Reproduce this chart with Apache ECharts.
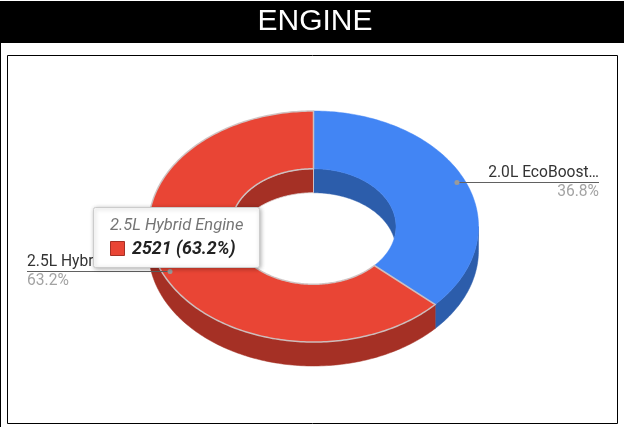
<!DOCTYPE html>
<html>
<head>
<meta charset="utf-8">
<style>html,body{margin:0;padding:0;background:#fff}#c{width:624px;height:427px}</style>
<script src="https://cdn.jsdelivr.net/npm/echarts@6/dist/echarts.min.js"></script>
</head>
<body>
<div id="c"></div>
<script>
const titleText = 'ENGINE';
const categories = ['2.0L EcoBoost Engine', '2.5L Hybrid Engine'];
const shortLabels = ['2.0L EcoBoost…', '2.5L Hybrid E…'];
const values = [1468, 2521];
const topColors = ['#4285f4', '#e94535'];
const sideColors = ['#2c5dab', '#a53025'];

const total = values.reduce((a, b) => a + b, 0);
const pct = v => (v / total * 100).toFixed(1) + '%';
const hoverIndex = 1;
const G = { cx: 313.5, cy: 226.5, rx: 165, ry: 115.5, hole: 0.5, depth: 24 };

function pt(deg, k) {
  const t = deg * Math.PI / 180;
  return [G.cx + G.rx * k * Math.sin(t), G.cy - G.ry * k * Math.cos(t)];
}
function arc(a, b, k) {
  const out = [], n = Math.max(2, Math.ceil(Math.abs(b - a)));
  for (let i = 0; i <= n; i++) out.push(pt(a + (b - a) * i / n, k));
  return out;
}
function overlap(a, b, lo, hi) {
  const s = Math.max(a, lo), e = Math.min(b, hi);
  return e > s ? [s, e] : null;
}

function renderItem(params, api) {
  const i = params.dataIndex;
  const before = values.slice(0, i).reduce((a, b) => a + b, 0);
  const a0 = before / total * 360, a1 = (before + api.value(1)) / total * 360;
  const mid = (a0 + a1) / 2;
  const hot = i === hoverIndex;
  const edge = 'rgba(205,195,195,0.95)';
  const kids = [];

  // outer front wall
  const front = overlap(a0, a1, 90, 270);
  if (front) {
    const top = arc(front[0], front[1], 1);
    const bot = top.map(p => [p[0], p[1] + G.depth]).reverse();
    kids.push({ type: 'polygon', shape: { points: top.concat(bot) },
      style: { fill: sideColors[i], stroke: sideColors[i], lineWidth: 0.5 } });
  }
  // inner back wall, visible through the hole
  [[-90, 90], [270, 450]].forEach(r => {
    const part = overlap(a0, a1, r[0], r[1]);
    if (!part) return;
    const top = arc(part[0], part[1], G.hole);
    const bot = top.map(p => [p[0], Math.min(p[1] + G.depth, 2 * G.cy - p[1])]).reverse();
    kids.push({ type: 'polygon', shape: { points: top.concat(bot) },
      style: { fill: sideColors[i], stroke: hot ? 'rgba(225,215,215,0.8)' : sideColors[i], lineWidth: hot ? 1 : 0.5 } });
  });
  // top surface
  const ring = arc(a0, a1, 1).concat(arc(a1, a0, G.hole));
  kids.push({ type: 'polygon', shape: { points: ring },
    style: { fill: topColors[i], stroke: hot ? edge : topColors[i], lineWidth: hot ? 1.5 : 0.5 } });

  // label line, dot and texts
  const dot = pt(mid, 0.95);
  const right = dot[0] > G.cx;
  const lineEnd = right ? 599 : 27;
  const lineY = Math.round(dot[1]) + 0.5;
  kids.push({ type: 'line', shape: { x1: dot[0], y1: lineY, x2: lineEnd, y2: lineY },
    style: { stroke: '#616161', lineWidth: 1 } });
  kids.push({ type: 'circle', shape: { cx: dot[0], cy: lineY, r: 2.5 }, style: { fill: '#9a9a9a' } });
  kids.push({ type: 'text', x: lineEnd, y: lineY - 9,
    style: { text: shortLabels[i], fill: '#333333', font: '15.6px Roboto', align: right ? 'right' : 'left', verticalAlign: 'middle' } });
  kids.push({ type: 'text', x: lineEnd, y: lineY + 10,
    style: { text: pct(api.value(1)), fill: '#a3a3a3', font: '15.6px Roboto', align: right ? 'right' : 'left', verticalAlign: 'middle' } });
  return { type: 'group', children: kids };
}

const chart = echarts.init(document.getElementById('c'), null, { renderer: 'canvas' });
chart.setOption({
  animation: false,
  backgroundColor: '#ffffff',
  graphic: [
    { type: 'rect', z: 0, shape: { x: 0, y: 1, width: 624, height: 42 }, style: { fill: '#000000' } },
    { type: 'rect', z: 0, shape: { x: 0, y: 43, width: 1, height: 384 }, style: { fill: '#000000' } },
    { type: 'text', z: 1, x: 315, y: 22,
      style: { text: titleText, fill: '#ffffff', font: '30px "Liberation Sans"', align: 'center', verticalAlign: 'middle' } },
    { type: 'rect', z: 0, shape: { x: 7.5, y: 55.5, width: 610, height: 368 },
      style: { fill: '#ffffff', stroke: '#000000', lineWidth: 1 } },
    { type: 'rect', z: 100, shape: { x: 93.5, y: 207.5, width: 166, height: 60, r: 2 },
      style: { fill: '#ffffff', stroke: '#cccccc', lineWidth: 1, shadowBlur: 4, shadowOffsetX: 1, shadowOffsetY: 1, shadowColor: 'rgba(0,0,0,0.3)' } },
    { type: 'text', z: 101, x: 110, y: 226,
      style: { text: categories[hoverIndex], fill: '#757575', font: 'italic 16.5px Roboto', align: 'left', verticalAlign: 'middle' } },
    { type: 'rect', z: 101, shape: { x: 110.5, y: 241.5, width: 14, height: 14 },
      style: { fill: topColors[hoverIndex], stroke: sideColors[hoverIndex], lineWidth: 1 } },
    { type: 'text', z: 101, x: 132, y: 250,
      style: { text: values[hoverIndex] + ' (' + pct(values[hoverIndex]) + ')', fill: '#222222', font: 'italic bold 17.8px Roboto', align: 'left', verticalAlign: 'middle' } }
  ],
  series: [{
    type: 'custom',
    coordinateSystem: 'none',
    z: 10,
    silent: true,
    renderItem,
    data: categories.map((n, i) => ({ name: n, value: [i, values[i]] }))
  }]
});
</script>
</body>
</html>
